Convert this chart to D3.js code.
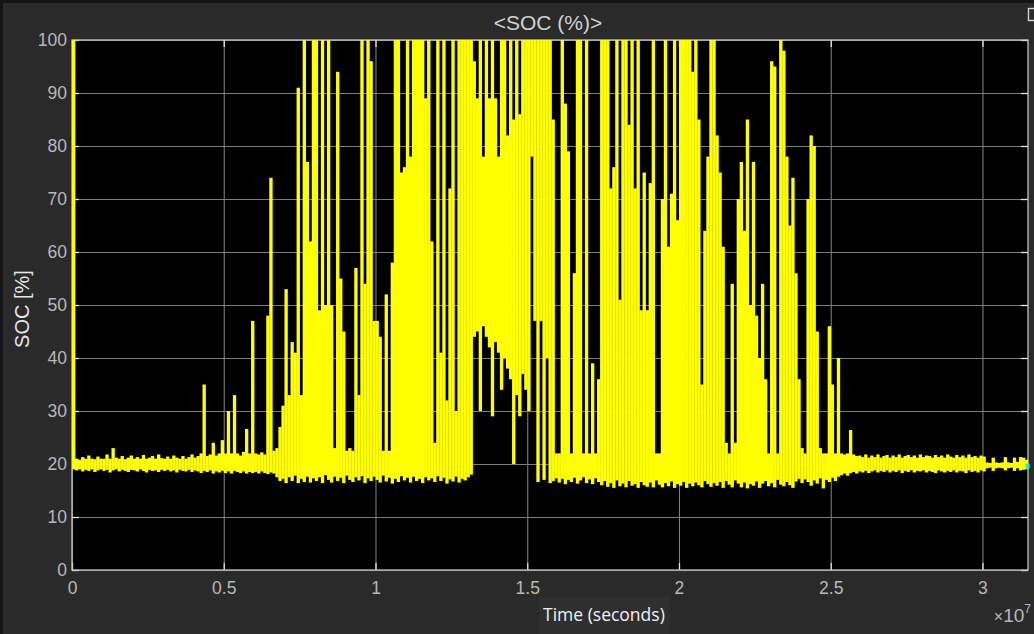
<!DOCTYPE html>
<html>
<head>
<meta charset="utf-8">
<title>SOC (%)</title>
<script src="https://d3js.org/d3.v7.min.js"></script>
<style>
  html, body { margin: 0; padding: 0; background: #141414; }
  svg { display: block; }
  .tick text { font-family: "Liberation Sans", Arial, sans-serif; }
</style>
</head>
<body>
<div id="chart"></div>
<script>
// SOC trace: envelope (max / min) of the signal per 1e5 s bin
const binSeconds = 1e5;

const socHigh = [
  /*   0 */ 100, 21, 20.8, 21.3, 21, 21.6, 21, 20.9, 21.4, 21,
  /*  10 */ 21, 21.8, 21, 23, 21.2, 21, 21.5, 20.9, 21.2, 21.6,
  /*  20 */ 21, 21.3, 21, 21.7, 21, 21.2, 21.5, 21, 21.8, 21.1,
  /*  30 */ 21, 21.4, 21, 21.6, 21.2, 21, 21.5, 21, 21.3, 21.8,
  /*  40 */ 21.2, 21.5, 22, 35, 21.5, 21.8, 24, 21.6, 22, 24.5,
  /*  50 */ 22, 30, 22, 33, 22, 21.6, 22.3, 26.6, 22, 47,
  /*  60 */ 22, 21.8, 22.2, 21.8, 48, 74, 22.5, 23, 27, 31,
  /*  70 */ 53, 33, 43, 41, 91, 33, 100, 77, 62, 100,
  /*  80 */ 100, 49, 100, 50, 100, 50, 23, 94, 55, 45,
  /*  90 */ 22.5, 23, 22.5, 57, 33, 100, 54, 100, 96, 47,
  /* 100 */ 47, 44, 22.5, 52, 22.5, 58, 100, 100, 75, 76,
  /* 110 */ 100, 78, 100, 100, 100, 100, 89, 100, 62, 24,
  /* 120 */ 100, 41, 100, 32, 72, 100, 30, 100, 100, 100,
  /* 130 */ 100, 100, 96, 89, 100, 78, 100, 89, 100, 89,
  /* 140 */ 78, 100, 100, 82, 100, 85, 100, 86, 100, 100,
  /* 150 */ 100, 100, 100, 100, 100, 100, 100, 100, 85, 22,
  /* 160 */ 22, 100, 88, 79, 22, 56, 100, 100, 22, 100,
  /* 170 */ 22, 39, 22, 36, 100, 100, 100, 72, 76, 100,
  /* 180 */ 51, 100, 100, 84, 100, 72, 100, 49, 75, 49,
  /* 190 */ 73, 100, 22, 22, 70, 100, 61, 71, 100, 66,
  /* 200 */ 100, 100, 100, 100, 94, 100, 85, 35, 64, 78,
  /* 210 */ 100, 100, 82, 75, 61, 24, 22, 54, 24, 70,
  /* 220 */ 77, 64, 85, 50, 77, 48, 40, 54, 36, 22,
  /* 230 */ 96, 95, 22, 100, 98, 78, 65, 74, 56, 36,
  /* 240 */ 23, 22, 70, 82, 80, 45, 23, 22, 22, 46,
  /* 250 */ 35, 22, 40, 22, 21.8, 22, 26.4, 21.8, 21.5, 21.6,
  /* 260 */ 21.3, 21.8, 21.2, 21.6, 21.3, 21.8, 21.2, 21.5, 21.7, 21.2,
  /* 270 */ 21.6, 21.3, 21.8, 21.2, 21.5, 21.7, 21.3, 21.6, 21.2, 21.8,
  /* 280 */ 21.3, 21.6, 21.5, 21.2, 21.7, 21.3, 21.6, 21.2, 21.8, 21.4,
  /* 290 */ 21.2, 21.7, 21.3, 21.6, 21.2, 21.8, 21.3, 21.5, 21.2, 21.6,
  /* 300 */ 21.4, 20.3, 20.2, 21.2, 20.3, 20.2, 20.3, 21.3, 20.3, 20.2,
  /* 310 */ 21.2, 20.4, 21.3, 21.2, 20.8
];

const socLow = [
  /*   0 */ 19, 18.8, 19, 18.6, 18.9, 18.7, 19, 18.5, 18.8, 19,
  /*  10 */ 18.7, 18.9, 18.4, 18.8, 19, 18.6, 18.9, 18.7, 18.5, 18.9,
  /*  20 */ 18.8, 18.6, 19, 18.7, 18.4, 18.9, 18.7, 18.8, 18.5, 18.9,
  /*  30 */ 18.7, 18.9, 18.6, 18.8, 18.4, 18.9, 18.7, 18.6, 18.9, 18.5,
  /*  40 */ 18.8, 18.6, 18.3, 18.7, 18.5, 18.8, 18.2, 18.6, 18.4, 18.7,
  /*  50 */ 18.3, 18.6, 18.2, 18.7, 18.5, 18.3, 18.6, 18.2, 18.5, 18.3,
  /*  60 */ 18.5, 18.2, 18.6, 18.3, 18.1, 18.4, 18.2, 17.5, 16.8, 17.2,
  /*  70 */ 16.4, 17.5, 16.8, 17.8, 16.4, 17.2, 16.6, 17.6, 16.5, 17.3,
  /*  80 */ 16.8, 17.5, 16.4, 17.9, 17, 16.5, 17.6, 16.8, 17.4, 16.4,
  /*  90 */ 17.8, 17, 16.6, 17.5, 16.9, 17.7, 16.4, 17.3, 16.8, 17.6,
  /* 100 */ 17, 16.5, 17.8, 16.7, 17.4, 16.3, 17.2, 16.6, 17.7, 16.9,
  /* 110 */ 17.4, 16.5, 17.6, 16.8, 17.2, 16.4, 17.5, 16.9, 17.3, 16.6,
  /* 120 */ 17.7, 16.8, 17.4, 16.3, 17.1, 16.7, 17.6, 16.5, 17.2, 16.9,
  /* 130 */ 17.5, 18, 44, 45, 30, 46, 44, 42, 29, 43,
  /* 140 */ 41, 34, 40, 38, 36, 20, 33, 29, 37, 34,
  /* 150 */ 30, 78, 47, 16.6, 47, 17, 40, 16.4, 16.8, 17.3,
  /* 160 */ 16.5, 17.2, 16.2, 17, 16.6, 17.4, 16.3, 16.9, 17.5, 16.4,
  /* 170 */ 17.1, 16.2, 17.3, 16.6, 16, 16.8, 15.7, 16.4, 15.5, 16.9,
  /* 180 */ 15.8, 16.3, 15.6, 16.8, 15.9, 16.2, 15.5, 16.6, 16, 15.7,
  /* 190 */ 16.5, 15.6, 16.9, 16.1, 15.6, 16.4, 15.8, 16.7, 15.5, 16.2,
  /* 200 */ 15.9, 16.6, 15.5, 16.3, 15.8, 16.5, 16, 15.6, 16.8, 16.2,
  /* 210 */ 15.7, 16.4, 15.9, 16.6, 15.5, 16.8, 16.1, 15.6, 16.9, 16.3,
  /* 220 */ 15.6, 16.5, 15.4, 16.2, 15.9, 16.7, 15.5, 16.3, 16.8, 15.8,
  /* 230 */ 16.4, 15.6, 17, 16.1, 15.8, 16.6, 16, 15.5, 16.7, 17.2,
  /* 240 */ 16.4, 17.1, 16.6, 15.9, 16.9, 16.3, 17.3, 15.4, 17, 16.6,
  /* 250 */ 17.4, 16.8, 17.6, 17.9, 18.2, 17.8, 18.3, 18.5, 18.2, 18.6,
  /* 260 */ 18.4, 18.7, 18.3, 18.6, 18.8, 18.4, 18.7, 18.5, 18.8, 18.4,
  /* 270 */ 18.7, 18.5, 18.8, 18.3, 18.7, 18.5, 18.8, 18.4, 18.7, 18.6,
  /* 280 */ 18.8, 18.4, 18.7, 18.5, 18.3, 18.8, 18.6, 18.4, 18.7, 18.5,
  /* 290 */ 18.8, 18.4, 18.7, 18.6, 18.3, 18.8, 18.5, 18.7, 18.4, 18.8,
  /* 300 */ 18.6, 19.2, 19.3, 18.7, 19.2, 19.3, 19.2, 18.8, 19.2, 19.3,
  /* 310 */ 18.7, 19.2, 18.8, 18.9, 19
];

const xTicks = [0, 0.5e7, 1e7, 1.5e7, 2e7, 2.5e7, 3e7];
const xTickLabels = ["0", "0.5", "1", "1.5", "2", "2.5", "3"];
const yTicks = [0, 10, 20, 30, 40, 50, 60, 70, 80, 90, 100];
const lastSample = [3.149e7, 19.6];   // cyan end-of-data marker

const W = 1034, H = 634;
const plotLeft = 72, plotRight = 1028, plotTop = 40, plotBottom = 570;

const x = d3.scaleLinear().domain([0, 3.15e7]).range([plotLeft, plotRight]);
const y = d3.scaleLinear().domain([0, 100]).range([plotBottom, plotTop]);
const plotW = plotRight - plotLeft, plotH = plotBottom - plotTop;

const svg = d3.select("#chart").append("svg")
  .attr("width", W)
  .attr("height", H);

// figure background
svg.append("rect")
  .attr("x", 3).attr("y", 3)
  .attr("width", W - 3).attr("height", H - 3)
  .attr("fill", "#2a2a2a");

// axes background
svg.append("rect")
  .attr("x", plotLeft).attr("y", plotTop)
  .attr("width", plotW).attr("height", plotH)
  .attr("fill", "#000");

// grid
svg.append("g")
  .attr("transform", `translate(0,${plotBottom})`)
  .call(d3.axisBottom(x).tickValues(xTicks).tickSize(-plotH).tickFormat(""))
  .call(g => g.select(".domain").remove())
  .call(g => g.selectAll("line").attr("stroke", "#7c7c7c").attr("stroke-width", 1.1));

svg.append("g")
  .attr("transform", `translate(${plotLeft},0)`)
  .call(d3.axisLeft(y).tickValues(yTicks).tickSize(-plotW).tickFormat(""))
  .call(g => g.select(".domain").remove())
  .call(g => g.selectAll("line").attr("stroke", "#7c7c7c").attr("stroke-width", 1.1));

// inward tick marks on all four sides
const tickStyle = g => {
  g.select(".domain").remove();
  g.selectAll("line").attr("stroke", "#e4e4e4").attr("stroke-width", 1.3);
};
svg.append("g").attr("transform", `translate(0,${plotBottom})`)
  .call(d3.axisBottom(x).tickValues(xTicks).tickSize(-7).tickFormat("")).call(tickStyle);
svg.append("g").attr("transform", `translate(0,${plotTop})`)
  .call(d3.axisTop(x).tickValues(xTicks).tickSize(-7).tickFormat("")).call(tickStyle);
svg.append("g").attr("transform", `translate(${plotLeft},0)`)
  .call(d3.axisLeft(y).tickValues(yTicks).tickSize(-7).tickFormat("")).call(tickStyle);
svg.append("g").attr("transform", `translate(${plotRight},0)`)
  .call(d3.axisRight(y).tickValues(yTicks).tickSize(-7).tickFormat("")).call(tickStyle);

// axes box
svg.append("rect")
  .attr("x", plotLeft).attr("y", plotTop)
  .attr("width", plotW).attr("height", plotH)
  .attr("fill", "none")
  .attr("stroke", "#c4c4c4")
  .attr("stroke-width", 1.3);

// signal
svg.append("clipPath").attr("id", "plotClip")
  .append("rect")
  .attr("x", plotLeft).attr("y", plotTop - 1)
  .attr("width", plotW).attr("height", plotH + 1);

svg.append("g")
  .attr("clip-path", "url(#plotClip)")
  .selectAll("rect")
  .data(socHigh)
  .join("rect")
  .attr("x", (d, i) => x(i * binSeconds))
  .attr("width", (d, i) => x((i + 1) * binSeconds) - x(i * binSeconds) + 0.3)
  .attr("y", d => y(d))
  .attr("height", (d, i) => y(socLow[i]) - y(d))
  .attr("fill", "#ffff00");

svg.append("rect")
  .attr("x", x(lastSample[0]) - 2).attr("y", y(lastSample[1]) - 2.5)
  .attr("width", 4).attr("height", 5)
  .attr("fill", "#19e6e6");

// tick labels
svg.append("g")
  .attr("transform", `translate(0,${plotBottom})`)
  .call(d3.axisBottom(x).tickValues(xTicks).tickSize(0).tickPadding(12)
    .tickFormat((d, i) => xTickLabels[i]))
  .call(g => g.select(".domain").remove())
  .call(g => g.selectAll("text").attr("fill", "#b8b8b8").attr("font-size", 17.5));

svg.append("g")
  .attr("transform", `translate(${plotLeft},0)`)
  .call(d3.axisLeft(y).tickValues(yTicks).tickSize(0).tickPadding(5))
  .call(g => g.select(".domain").remove())
  .call(g => g.selectAll("text").attr("fill", "#b8b8b8").attr("font-size", 17.5));

// exponent
const expo = svg.append("text")
  .attr("x", 1031).attr("y", 622)
  .attr("text-anchor", "end")
  .attr("fill", "#b8b8b8")
  .attr("font-family", "Liberation Sans, Arial, sans-serif")
  .attr("font-size", 19);
expo.append("tspan").attr("font-size", 16).text("×");
expo.append("tspan").text("10");
expo.append("tspan").attr("font-size", 12).attr("dy", -9).text("7");

// title
svg.append("text")
  .attr("x", 548).attr("y", 30)
  .attr("text-anchor", "middle")
  .attr("fill", "#d2d2d2")
  .attr("font-family", "Liberation Sans, Arial, sans-serif")
  .attr("font-size", 21)
  .text("<SOC (%)>");

// y label
svg.append("text")
  .attr("transform", "translate(29,309) rotate(-90)")
  .attr("text-anchor", "middle")
  .attr("fill", "#e6e6e6")
  .attr("font-family", "Liberation Sans, Arial, sans-serif")
  .attr("font-size", 20)
  .text("SOC [%]");

// x label sits in its own small box
svg.append("rect")
  .attr("x", 539).attr("y", 597)
  .attr("width", 131).attr("height", 37)
  .attr("fill", "#2f2f2f");
svg.append("text")
  .attr("x", 543).attr("y", 621)
  .attr("fill", "#f2f2f2")
  .attr("font-family", "Open Sans, sans-serif")
  .attr("font-size", 17.5)
  .text("Time (seconds)");

// corner toolbar glyph
svg.append("rect")
  .attr("x", 1028.5).attr("y", 8.5)
  .attr("width", 9).attr("height", 12)
  .attr("fill", "none")
  .attr("stroke", "#d0d0d0")
  .attr("stroke-width", 1.4);
</script>
</body>
</html>
